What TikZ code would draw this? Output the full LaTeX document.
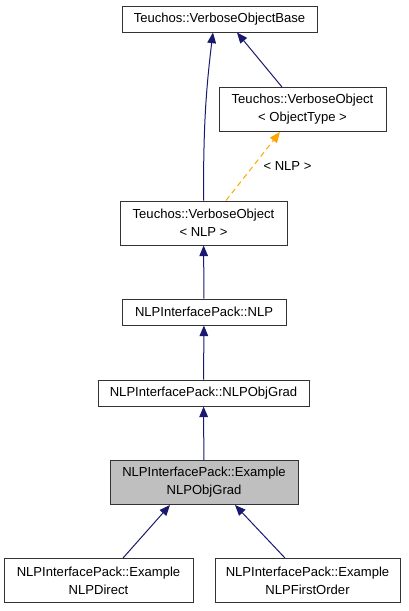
\documentclass[tikz,border=0pt]{standalone}
\usepackage{fontspec}
\setmainfont{Liberation Sans}
\usetikzlibrary{arrows.meta}
\definecolor{edgeblue}{HTML}{191970}
\definecolor{tmplorange}{HTML}{FFA500}
\definecolor{boxgray}{HTML}{BFBFBF}

\begin{document}
\begin{tikzpicture}[x=0.75pt,y=-0.75pt,
    cls/.style={draw=black!80,line width=0.75pt,inner sep=0pt,align=center,
      minimum height=19.5pt,font=\fontsize{9.8}{13.5}\selectfont},
    two/.style={minimum height=33pt},
    inh/.style={draw=edgeblue,line width=0.75pt,
      -{Triangle[length=8pt,width=6.5pt]}},
    tmpl/.style={draw=tmplorange,line width=0.75pt,
      dash pattern=on 4pt off 3pt,-{Triangle[length=8pt,width=6.5pt]}},
    lbl/.style={inner sep=0pt,font=\fontsize{9.8}{13.5}\selectfont}]
      \useasboundingbox (0,0) rectangle (408,611);
      \node[cls,minimum width=146.25pt](vob) at (219.5,19){Teuchos::VerboseObjectBase};
      \node[cls,two,minimum width=125.25pt](vot) at (302.5,109.5){Teuchos::VerboseObject\\< ObjectType >};
      \node[cls,two,minimum width=125.25pt](von) at (203.5,223){Teuchos::VerboseObject\\< NLP >};
      \node[cls,minimum width=123pt](nlp) at (204,312){NLPInterfacePack::NLP};
      \node[cls,minimum width=158.25pt](nog) at (203.5,393){NLPInterfacePack::NLPObjGrad};
      \node[cls,two,fill=boxgray,minimum width=141pt](eog) at (204,482.5){NLPInterfacePack::Example\\NLPObjGrad};
      \node[cls,two,minimum width=141.75pt](edir) at (98.5,580.5){NLPInterfacePack::Example\\NLPDirect};
      \node[cls,two,minimum width=138.75pt](efo) at (307.5,580.5){NLPInterfacePack::Example\\NLPFirstOrder};
      \draw[inh] (von.north) to[out=90,in=-97] ([xshift=-4.9pt]vob.south);
      \draw[inh] ([xshift=-15.4pt]vot.north) -- ([xshift=13.1pt]vob.south);
      \draw[tmpl] ([xshift=16.9pt]von.north) -- node[lbl,anchor=west,xshift=7.5pt]{< NLP >} ([xshift=-16.9pt]vot.south);
      \draw[inh] (nlp) -- (von);
      \draw[inh] (nog) -- (nlp);
      \draw[inh] (eog) -- (nog);
      \draw[inh] ([xshift=18.4pt]edir.north) -- ([xshift=-25.5pt]eog.south);
      \draw[inh] ([xshift=-16.9pt]efo.north) -- ([xshift=23.25pt]eog.south);
    \end{tikzpicture}
\end{document}
